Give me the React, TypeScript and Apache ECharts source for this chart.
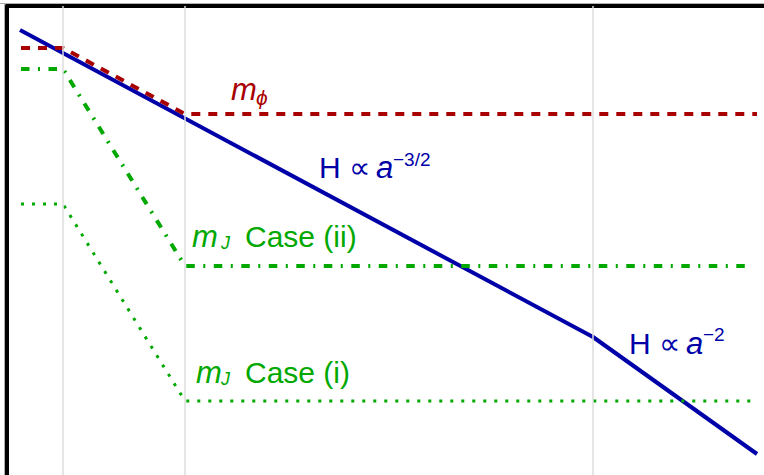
import React, { useEffect, useRef } from "react";
import * as echarts from "echarts";

// ---- data (x: ln a in arbitrary units, y: ln of mass / Hubble rate in arbitrary units)
const GRID_X = [5.6, 17.8, 58.6];

const H_X = [1.3, 58.6, 75.0];
const H_Y = [44.5, 13.8, 2.1];

const MPHI_X = [1.4, 5.6, 17.8, 75.0];
const MPHI_Y = [42.7, 42.7, 36.1, 36.1];

const MJ2_X = [1.4, 5.6, 17.8, 74.5];
const MJ2_Y = [40.6, 40.6, 20.9, 20.9];

const MJ1_X = [1.4, 5.6, 17.8, 75.0];
const MJ1_Y = [27.1, 27.1, 7.4, 7.4];

// label anchors (data coords) and texts
const LABEL_POS: [number, number][] = [
  [22.5, 37.5],
  [31.4, 29.7],
  [18.6, 22.8],
  [19.0, 9.2],
  [62.4, 12.1],
];
const LABEL_TEXTS: string[][] = [
  ["m", "ϕ"],
  ["H ∝", "a", "−3/2"],
  ["m", "J", "Case (ii)"],
  ["m", "J", "Case (i)"],
  ["H ∝", "a", "−2"],
];

const RED = "#a80000";
const BLUE = "#0000a8";
const GREEN = "#00a800";
const FONT = '"Liberation Sans", Arial, Helvetica, sans-serif';

type Part = { dx: number; dy: number; size: number; italic?: boolean };
const LABEL_STYLE: { color: string; parts: Part[] }[] = [
  { color: RED, parts: [{ dx: -1, dy: 0, size: 31, italic: true }, { dx: 24, dy: 5, size: 21, italic: true }] },
  { color: BLUE, parts: [{ dx: -2, dy: 0, size: 30 }, { dx: 55, dy: 0, size: 31, italic: true }, { dx: 72, dy: -12, size: 19 }] },
  { color: GREEN, parts: [{ dx: -1, dy: 0, size: 31, italic: true }, { dx: 28, dy: 2, size: 18, italic: true }, { dx: 52, dy: 0, size: 30 }] },
  { color: GREEN, parts: [{ dx: -1, dy: 0, size: 31, italic: true }, { dx: 24, dy: 2, size: 18, italic: true }, { dx: 48, dy: 0, size: 30 }] },
  { color: BLUE, parts: [{ dx: -2, dy: 0, size: 30 }, { dx: 55, dy: 0, size: 31, italic: true }, { dx: 72, dy: -13, size: 19 }] },
];

const zip = (xs: number[], ys: number[]) => xs.map((x, i) => [x, ys[i]]);

export default function App() {
  const ref = useRef<HTMLDivElement>(null);
  useEffect(() => {
    if (!ref.current) return;
    const chart = echarts.init(ref.current, null, { renderer: "svg" });
    const hidden = { show: false };
    chart.setOption({
      animation: false,
      backgroundColor: "#ffffff",
      grid: { left: 7, top: 6, right: 0, bottom: 0 },
      xAxis: {
        type: "value",
        min: 0,
        max: 75.7,
        position: "top",
        axisLine: { show: true, onZero: false, lineStyle: { color: "#000", width: 4 } },
        axisTick: hidden,
        axisLabel: hidden,
        splitLine: hidden,
      },
      yAxis: {
        type: "value",
        min: 0,
        max: 46.9,
        axisLine: { show: true, onZero: false, lineStyle: { color: "#000", width: 4 } },
        axisTick: hidden,
        axisLabel: hidden,
        splitLine: hidden,
      },
      series: [
        {
          type: "line",
          data: [],
          z: 1,
          silent: true,
          markLine: {
            silent: true,
            symbol: ["none", "none"],
            label: { show: false },
            lineStyle: { color: "#dcdcdc", width: 1.5, type: "solid" },
            data: GRID_X.map((x) => ({ xAxis: x })),
          },
        },
        {
          type: "line",
          data: zip(H_X, H_Y),
          symbol: "none",
          z: 2,
          lineStyle: { color: BLUE, width: 4, type: "solid" },
        },
        {
          type: "line",
          data: zip(MJ2_X, MJ2_Y),
          symbol: "none",
          z: 3,
          lineStyle: { color: GREEN, width: 4, type: [8.5, 8.5, 2, 8.5], cap: "butt" },
        },
        {
          type: "line",
          data: zip(MJ1_X, MJ1_Y),
          symbol: "none",
          z: 3,
          lineStyle: { color: GREEN, width: 3, type: [3, 8], cap: "butt" },
        },
        {
          type: "line",
          data: zip(MPHI_X, MPHI_Y),
          symbol: "none",
          z: 4,
          lineStyle: { color: RED, width: 4, type: [9, 8], cap: "butt" },
        },
      ],
    });

    const graphics: any[] = [
      { type: "line", shape: { x1: 0, y1: 3.5, x2: 764, y2: 3.5 }, style: { stroke: "#b0b0b0", lineWidth: 1 }, z: 10 },
      { type: "line", shape: { x1: 4.5, y1: 3, x2: 4.5, y2: 475 }, style: { stroke: "#b0b0b0", lineWidth: 1 }, z: 10 },
    ];
    LABEL_POS.forEach((pos, i) => {
      const [px, py] = chart.convertToPixel({ gridIndex: 0 }, pos) as number[];
      const st = LABEL_STYLE[i];
      LABEL_TEXTS[i].forEach((t, j) => {
        const p = st.parts[j];
        graphics.push({
          type: "text",
          z: 20,
          style: {
            text: t,
            x: px + p.dx,
            y: py + p.dy - 0.347 * p.size,
            fill: st.color,
            fontSize: p.size,
            fontFamily: FONT,
            fontStyle: p.italic ? "italic" : "normal",
            align: "left",
            verticalAlign: "middle",
          },
        });
      });
    });
    chart.setOption({ graphic: graphics });

    return () => chart.dispose();
  }, []);
  return (
    <div
      ref={ref}
      style={{ position: "fixed", left: 0, top: 0, width: 764, height: 475, background: "#fff" }}
    />
  );
}
